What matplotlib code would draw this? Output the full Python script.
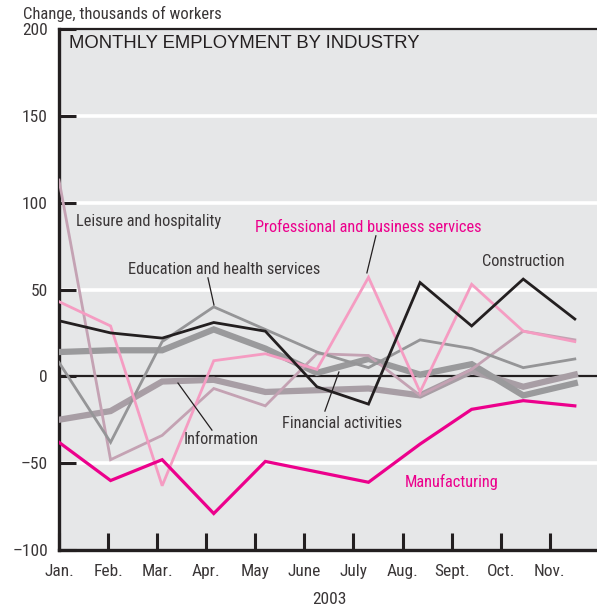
import numpy as np
import matplotlib.pyplot as plt

# Monthly change in payroll employment by industry, 2003 (thousands of workers)
months = ['Jan.', 'Feb.', 'Mar.', 'Apr.', 'May', 'June', 'July', 'Aug.', 'Sept.', 'Oct.', 'Nov.']

construction = [32, 25, 22, 31, 26, -6, -16, 54, 29, 56, 33]
manufacturing = [-38, -60, -48, -79, -49, -55, -61, -39, -19, -14, -17]
professional = [43, 29, -63, 9, 13, 4, 57, -9, 53, 26, 20]
leisure = [113, -48, -34, -7, -17, 13, 12, -11, 4, 26, 21]
education = [8, -38, 20, 40, 27, 14, 5, 21, 16, 5, 10]
financial = [14, 15, 15, 27, 16, 2, 10, 1, 7, -11, -4]
information = [-25, -20, -3, -2, -9, -8, -7, -11, 3, -6, 1]

yticks = [-100, -50, 0, 50, 100, 150, 200]
ytick_labels = ['\u2013100', '\u201350', '0', '50', '100', '150', '200']

narrow = ['Roboto Condensed', 'Archivo Narrow', 'DejaVu Sans']

bg = '#e6e7e8'
ink = '#3a3637'
dark = '#231f20'
magenta = '#ec008c'

fig = plt.figure(figsize=(5.97, 6.11), dpi=100)
ax = fig.add_axes([59 / 597, 1 - 550 / 611, 1 - 59 / 597, (550 - 29) / 611])
ax.set_facecolor(bg)

x = np.arange(len(months))
ax.set_xlim(0, 10.43)
ax.set_ylim(-100, 200)

# white grid, black zero line
for g in [-50, 50, 100, 150]:
    ax.axhline(g, color='white', lw=2.6, zorder=1)
ax.axhline(0, color=dark, lw=1.6, zorder=2)

ax.plot(x, information, color='#a89ea5', lw=4.5, solid_joinstyle='miter', zorder=3)
ax.plot(x, financial, color='#9a9a9c', lw=4.5, solid_joinstyle='miter', zorder=3)
ax.plot(x, leisure, color='#c4a2b3', lw=2.0, solid_joinstyle='miter', zorder=4)
ax.plot(x, education, color='#959597', lw=2.0, solid_joinstyle='miter', zorder=4)
ax.plot(x, professional, color='#f59cc2', lw=2.0, solid_joinstyle='miter', zorder=5)
ax.plot(x, construction, color=dark, lw=2.0, solid_joinstyle='miter', zorder=6)
ax.plot(x, manufacturing, color=magenta, lw=2.3, solid_joinstyle='miter', zorder=6)

# month ticks sit on a slightly tighter spacing than the data points
tick_step = 49.1 / 51.6
ax.set_xticks(np.arange(len(months)) * tick_step)
ax.set_xticklabels(months, family=narrow, fontsize=12.5, color=ink)
ax.set_yticks(yticks)
ax.set_yticklabels(ytick_labels, family=narrow, fontsize=12.5, color=ink)
ax.tick_params(axis='both', direction='in', length=12, width=2.2, color=dark, pad=8)
ax.tick_params(axis='x', pad=10)

for side in ['left', 'bottom']:
    ax.spines[side].set_linewidth(2.4)
    ax.spines[side].set_color(dark)
ax.spines['top'].set_linewidth(1.6)
ax.spines['top'].set_color(dark)
ax.spines['right'].set_visible(False)

fig.text(23 / 597, 1 - 14 / 611, 'Change, thousands of workers', family=narrow,
         fontsize=12, color=ink, va='center', ha='left')
fig.text(329 / 597, 1 - 600 / 611, '2003', family=narrow, fontsize=12.5,
         color=ink, va='center', ha='center')
ax.text(0.19, 191.6, 'MONTHLY EMPLOYMENT BY INDUSTRY', fontsize=13.3, color=dark,
        va='center', ha='left', family='Liberation Sans')

def label(px, py, s, color=ink):
    ax.text((px - 59) / 51.6, (376.3 - py) / 1.734, s, family=narrow, fontsize=11.8,
            color=color, va='center', ha='left', zorder=7)

def pointer(p0, p1):
    xs = [(p[0] - 59) / 51.6 for p in (p0, p1)]
    ys = [(376.3 - p[1]) / 1.734 for p in (p0, p1)]
    ax.plot(xs, ys, color=dark, lw=0.9, zorder=7)

label(76, 222, 'Leisure and hospitality')
label(128, 270, 'Education and health services')
label(255, 228, 'Professional and business services', magenta)
label(482, 262, 'Construction')
label(184, 439, 'Information')
label(282, 423, 'Financial activities')
label(405, 482, 'Manufacturing', magenta)

pointer((208, 278), (214, 305))
pointer((376, 236), (367, 273))
pointer((178, 383), (212, 430))
pointer((339, 372), (325, 411))

fig.savefig('out.png', dpi=100, facecolor='white')
